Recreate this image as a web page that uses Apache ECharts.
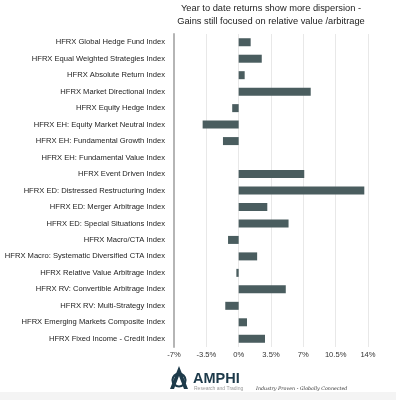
<!DOCTYPE html>
<html>
<head>
<meta charset="utf-8">
<script src="https://cdn.jsdelivr.net/npm/echarts@6/dist/echarts.min.js"></script>
<style>
  html, body { margin: 0; padding: 0; background: #fff; }
  #chart { width: 396px; height: 400px; }
</style>
</head>
<body>
<div id="chart"></div>
<script>
// 指数名称（自上而下）
const categories = [
  'HFRX Global Hedge Fund Index',
  'HFRX Equal Weighted Strategies Index',
  'HFRX Absolute Return Index',
  'HFRX Market Directional Index',
  'HFRX Equity Hedge Index',
  'HFRX EH: Equity Market Neutral Index',
  'HFRX EH: Fundamental Growth Index',
  'HFRX EH: Fundamental Value Index',
  'HFRX Event Driven Index',
  'HFRX ED: Distressed Restructuring Index',
  'HFRX ED: Merger Arbitrage Index',
  'HFRX ED: Special Situations Index',
  'HFRX Macro/CTA Index',
  'HFRX Macro: Systematic Diversified CTA Index',
  'HFRX Relative Value Arbitrage Index',
  'HFRX RV: Convertible Arbitrage Index',
  'HFRX RV: Multi-Strategy Index',
  'HFRX Emerging Markets Composite Index',
  'HFRX Fixed Income - Credit Index'
]
// 年初至今回报（%）
const ytdReturns = [1.3, 2.5, 0.65, 7.8, -0.7, -3.9, -1.7, 0, 7.1, 13.6,
  3.1, 5.4, -1.15, 2.0, -0.25, 5.1, -1.45, 0.9, 2.85]
const tickLabels = ['-7%', '-3.5%', '0%', '3.5%', '7%', '10.5%', '14%']
const xMin = -7
const xMax = 14
const xStep = 3.5

const chart = echarts.init(document.getElementById('chart'))
const font = '"Liberation Sans", Arial, sans-serif'

chart.setOption({
  animation: false,
  backgroundColor: '#fff',
  title: {
    text: 'Year to date returns show more dispersion -\nGains still focused on relative value /arbitrage',
    left: 271,
    top: 2,
    padding: 0,
    textAlign: 'center',
    textStyle: { fontSize: 9.3, fontWeight: 'normal', color: '#222', fontFamily: font, lineHeight: 13 }
  },
  grid: { left: 174, right: 28, top: 34, bottom: 53, containLabel: false, outerBoundsMode: 'none' },
  xAxis: {
    type: 'value',
    min: xMin,
    max: xMax,
    interval: xStep,
    axisLine: { show: false },
    axisTick: { show: false },
    splitLine: { lineStyle: { color: '#e8e8e8', width: 1 } },
    axisLabel: {
      fontSize: 7.6, color: '#333', fontFamily: font, margin: 4,
      formatter: v => tickLabels[Math.round((v - xMin) / xStep)]
    }
  },
  yAxis: {
    type: 'category',
    data: categories,
    inverse: true,
    axisLine: { onZero: false, lineStyle: { color: '#b5b5b5', width: 2 } },
    axisTick: { show: false },
    axisLabel: { fontSize: 7.6, color: '#222', fontFamily: font, margin: 9 }
  },
  series: [{
    type: 'bar',
    data: ytdReturns,
    barWidth: 8,
    itemStyle: { color: '#4a5d5f' }
  }],
  graphic: [
    { type: 'rect', shape: { x: 0, y: 392, width: 396, height: 8 }, style: { fill: '#f4f4f4' } },
    // logo 图标
    { type: 'circle', shape: { cx: 179, cy: 380, r: 6.5 }, style: { fill: 'none', stroke: '#1d3a4a', lineWidth: 2.2 } },
    { type: 'polygon', shape: { points: [[179, 366], [170, 389], [174, 389], [179, 376], [184, 389], [188, 389]] }, style: { fill: '#1d3a4a' } },
    { type: 'text', left: 193, top: 371, style: { text: 'AMPHI', fontSize: 14.5, fontWeight: 'bold', fill: '#1d3a4a', fontFamily: font } },
    { type: 'text', left: 194, top: 386, style: { text: 'Research and Trading', fontSize: 5, fill: '#999', fontFamily: font } },
    { type: 'text', left: 256, top: 386, style: { text: 'Industry Proven - Globally Connected', fontSize: 4.8, fontStyle: 'italic', fill: '#333', fontFamily: '"DejaVu Serif", serif' } }
  ]
})
</script>
</body>
</html>
